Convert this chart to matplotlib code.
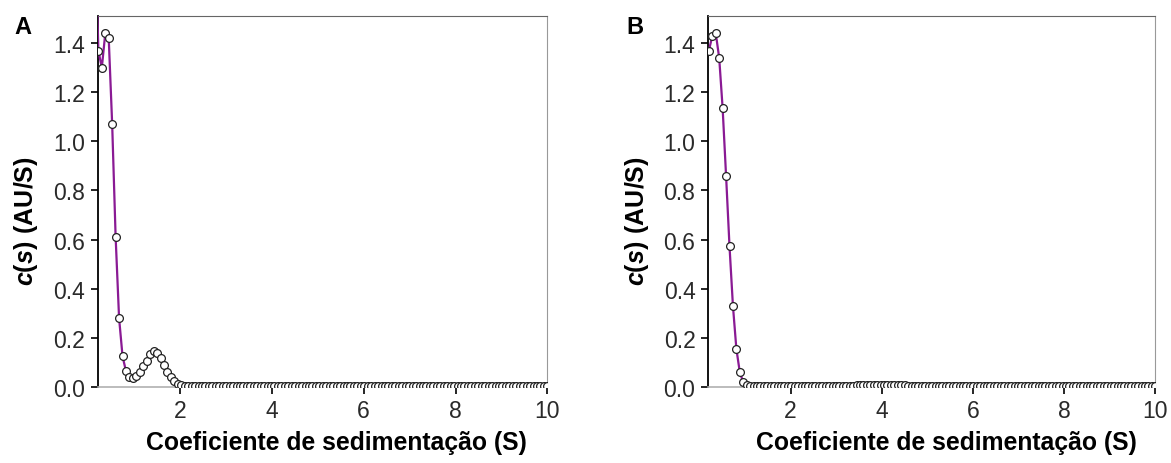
import matplotlib.pyplot as plt
import numpy as np

# sedimentation coefficient grid (S), as sampled by the c(s) fit
s_a = np.linspace(0.145, 10, 132)
s_b = np.linspace(0.21, 10, 131)

# c(s) (first point lies above the plot, clipped)
cs_a = [1.90, 1.37, 1.30, 1.44, 1.42, 1.07, 0.61, 0.28, 0.125, 0.064,
        0.040, 0.035, 0.044, 0.060, 0.084, 0.107, 0.135, 0.146, 0.140, 0.117,
        0.090, 0.062, 0.040, 0.024, 0.013, 0.007, 0.005, 0.004, 0.004, 0.004,
        0.004, 0.004, 0.004, 0.004, 0.004, 0.004, 0.004, 0.004, 0.004, 0.004,
        0.004, 0.004, 0.004, 0.004, 0.004, 0.004, 0.004, 0.004, 0.004, 0.004,
        0.004, 0.004, 0.004, 0.004, 0.004, 0.004, 0.004, 0.004, 0.004, 0.004,
        0.004, 0.004, 0.004, 0.004, 0.004, 0.004, 0.004, 0.004, 0.004, 0.004,
        0.004, 0.004, 0.004, 0.004, 0.004, 0.004, 0.004, 0.004, 0.004, 0.004,
        0.004, 0.004, 0.004, 0.004, 0.004, 0.004, 0.004, 0.004, 0.004, 0.004,
        0.004, 0.004, 0.004, 0.004, 0.004, 0.004, 0.004, 0.004, 0.004, 0.004,
        0.004, 0.004, 0.004, 0.004, 0.004, 0.004, 0.004, 0.004, 0.004, 0.004,
        0.004, 0.004, 0.004, 0.004, 0.004, 0.004, 0.004, 0.004, 0.004, 0.004,
        0.004, 0.004, 0.004, 0.004, 0.004, 0.004, 0.004, 0.004, 0.004, 0.004,
        0.004, 0.004]

# c(s)
cs_b = [1.37, 1.43, 1.44, 1.34, 1.135, 0.86, 0.573, 0.33, 0.155, 0.060,
        0.019, 0.007, 0.004, 0.004, 0.004, 0.004, 0.004, 0.004, 0.004, 0.004,
        0.004, 0.004, 0.004, 0.004, 0.004, 0.004, 0.004, 0.004, 0.004, 0.004,
        0.004, 0.004, 0.004, 0.004, 0.004, 0.004, 0.004, 0.004, 0.004, 0.004,
        0.004, 0.004, 0.004, 0.006, 0.008, 0.008, 0.008, 0.008, 0.008, 0.008,
        0.008, 0.008, 0.008, 0.008, 0.008, 0.008, 0.008, 0.006, 0.004, 0.004,
        0.004, 0.004, 0.004, 0.004, 0.004, 0.004, 0.004, 0.004, 0.004, 0.004,
        0.004, 0.004, 0.004, 0.004, 0.004, 0.004, 0.004, 0.004, 0.004, 0.004,
        0.004, 0.004, 0.004, 0.004, 0.004, 0.004, 0.004, 0.004, 0.004, 0.004,
        0.004, 0.004, 0.004, 0.004, 0.004, 0.004, 0.004, 0.004, 0.004, 0.004,
        0.004, 0.004, 0.004, 0.004, 0.004, 0.004, 0.004, 0.004, 0.004, 0.004,
        0.004, 0.004, 0.004, 0.004, 0.004, 0.004, 0.004, 0.004, 0.004, 0.004,
        0.004, 0.004, 0.004, 0.004, 0.004, 0.004, 0.004, 0.004, 0.004, 0.004,
        0.004]

x_ticks = [2, 4, 6, 8, 10]
y_ticks = [0.0, 0.2, 0.4, 0.6, 0.8, 1.0, 1.2, 1.4]
panels = ['A', 'B']

plt.rcParams['font.family'] = ['Liberation Sans', 'DejaVu Sans']
plt.rcParams['mathtext.fontset'] = 'custom'
plt.rcParams['mathtext.bf'] = 'Liberation Sans:bold'
plt.rcParams['mathtext.bfit'] = 'Liberation Sans:italic:bold'
plt.rcParams['mathtext.rm'] = 'Liberation Sans'

fig = plt.figure(figsize=(11.71, 4.64), dpi=100)
ax_a = fig.add_axes([0.0834, 0.164, 0.384, 0.799])
ax_b = fig.add_axes([0.6046, 0.164, 0.382, 0.799])

ylab = r'$\mathbfit{c}\mathbf{(}\mathbfit{s}\mathbf{)\ (AU/S)}$'

for ax, s, cs, x0, lab, lx in [(ax_a, s_a, cs_a, 0.205, panels[0], 0.012),
                                (ax_b, s_b, cs_b, 0.19, panels[1], 0.535)]:
    ax.plot(s, cs, color='#8a1a94', lw=1.6, marker='o', ms=5.6,
            mfc='white', mec='#222222', mew=0.9, zorder=3)
    ax.set_xlim(x0, 10)
    ax.set_ylim(0, 1.51)
    ax.set_xticks(x_ticks)
    ax.set_yticks(y_ticks)
    ax.set_yticklabels([f'{v:.1f}' for v in y_ticks])
    ax.tick_params(direction='out', length=5, width=1.2, color='black',
                   labelsize=16.5, labelcolor='#2a2a2a', pad=4)
    ax.spines['left'].set_color('black')
    ax.spines['left'].set_linewidth(1.3)
    ax.spines['bottom'].set_color('#b0b0b0')
    ax.spines['bottom'].set_linewidth(1.2)
    ax.spines['top'].set_color('#666666')
    ax.spines['right'].set_color('#999999')
    ax.set_xlabel('Coeficiente de sedimentação (S)', fontsize=17.8,
                  fontweight='bold')
    ax.xaxis.set_label_coords(0.532, -0.115)
    ax.set_ylabel(ylab, fontsize=18)
    ax.yaxis.set_label_coords(-0.128, 0.45)
    fig.text(lx, 0.94, lab, fontsize=17, fontweight='bold',
             ha='left', va='center')

fig.savefig('out.png', dpi=100)
